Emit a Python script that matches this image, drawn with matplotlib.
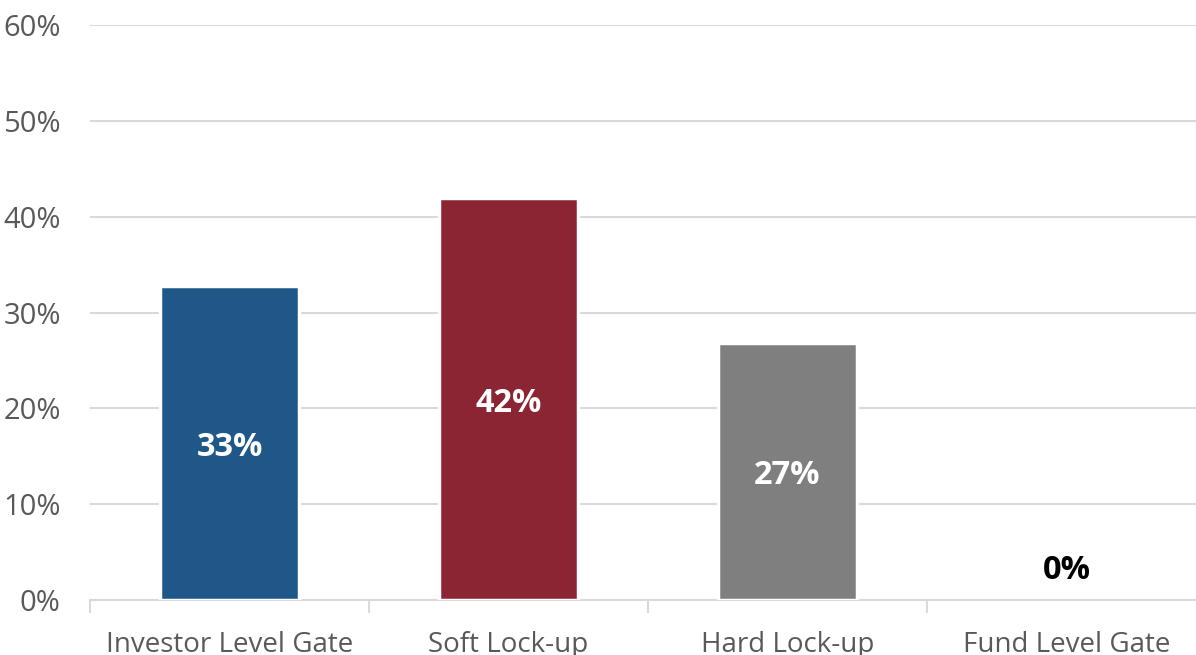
import matplotlib.pyplot as plt
import numpy as np

categories = ["Investor Level Gate", "Soft Lock-up", "Hard Lock-up", "Fund Level Gate"]
values = [32.8, 41.9, 26.8, 0.0]
labels = ["33%", "42%", "27%", "0%"]
colors = ["#1F5788", "#8B2433", "#7F7F7F", "#7F7F7F"]

plt.rcParams['font.family'] = ['Open Sans', 'DejaVu Sans']

fig = plt.figure(figsize=(11.96, 6.55), dpi=100)
ax = fig.add_axes([90 / 1196, 55 / 655, 1116 / 1196, 575 / 655])

x = np.arange(len(categories))
edge_w = [2.5 if v > 0 else 0 for v in values]
ax.bar(x, values, width=0.5, color=colors, edgecolor='white', linewidth=edge_w, zorder=3)

for i, (v, lab) in enumerate(zip(values, labels)):
    if v > 5:
        ax.annotate(lab, (i, v / 2), xytext=(0, -3), textcoords='offset points',
                    ha='center', va='center', color='white',
                    fontsize=23.5, fontweight='bold', zorder=4)
    else:
        ax.annotate(lab, (i, v), xytext=(0, 21), textcoords='offset points',
                    ha='center', va='center', color='black',
                    fontsize=23.5, fontweight='bold', zorder=4)

ax.set_xlim(-0.5, 3.5)
ax.set_ylim(0, 60)
ax.set_yticks(np.arange(0, 61, 10))
ax.set_yticklabels([f"{t}%" for t in range(0, 61, 10)])
ax.yaxis.grid(True, color='#d9d9d9', linewidth=1.5, zorder=0)
ax.set_axisbelow(True)

ax.set_xticks(x)
ax.set_xticklabels(categories)
ax.set_xticks(np.arange(-0.5, 4.0, 1.0), minor=True)
ax.tick_params(axis='x', which='major', length=0, pad=22, labelsize=20, labelcolor='#595959')
ax.tick_params(axis='x', which='minor', length=9, width=1.5, color='#d9d9d9')
ax.tick_params(axis='y', length=0, pad=21, labelsize=21, labelcolor='#595959')

for s in ['top', 'right', 'left']:
    ax.spines[s].set_visible(False)
ax.spines['bottom'].set_color('#d9d9d9')
ax.spines['bottom'].set_linewidth(1.5)

fig.savefig('out.png', dpi=100)
